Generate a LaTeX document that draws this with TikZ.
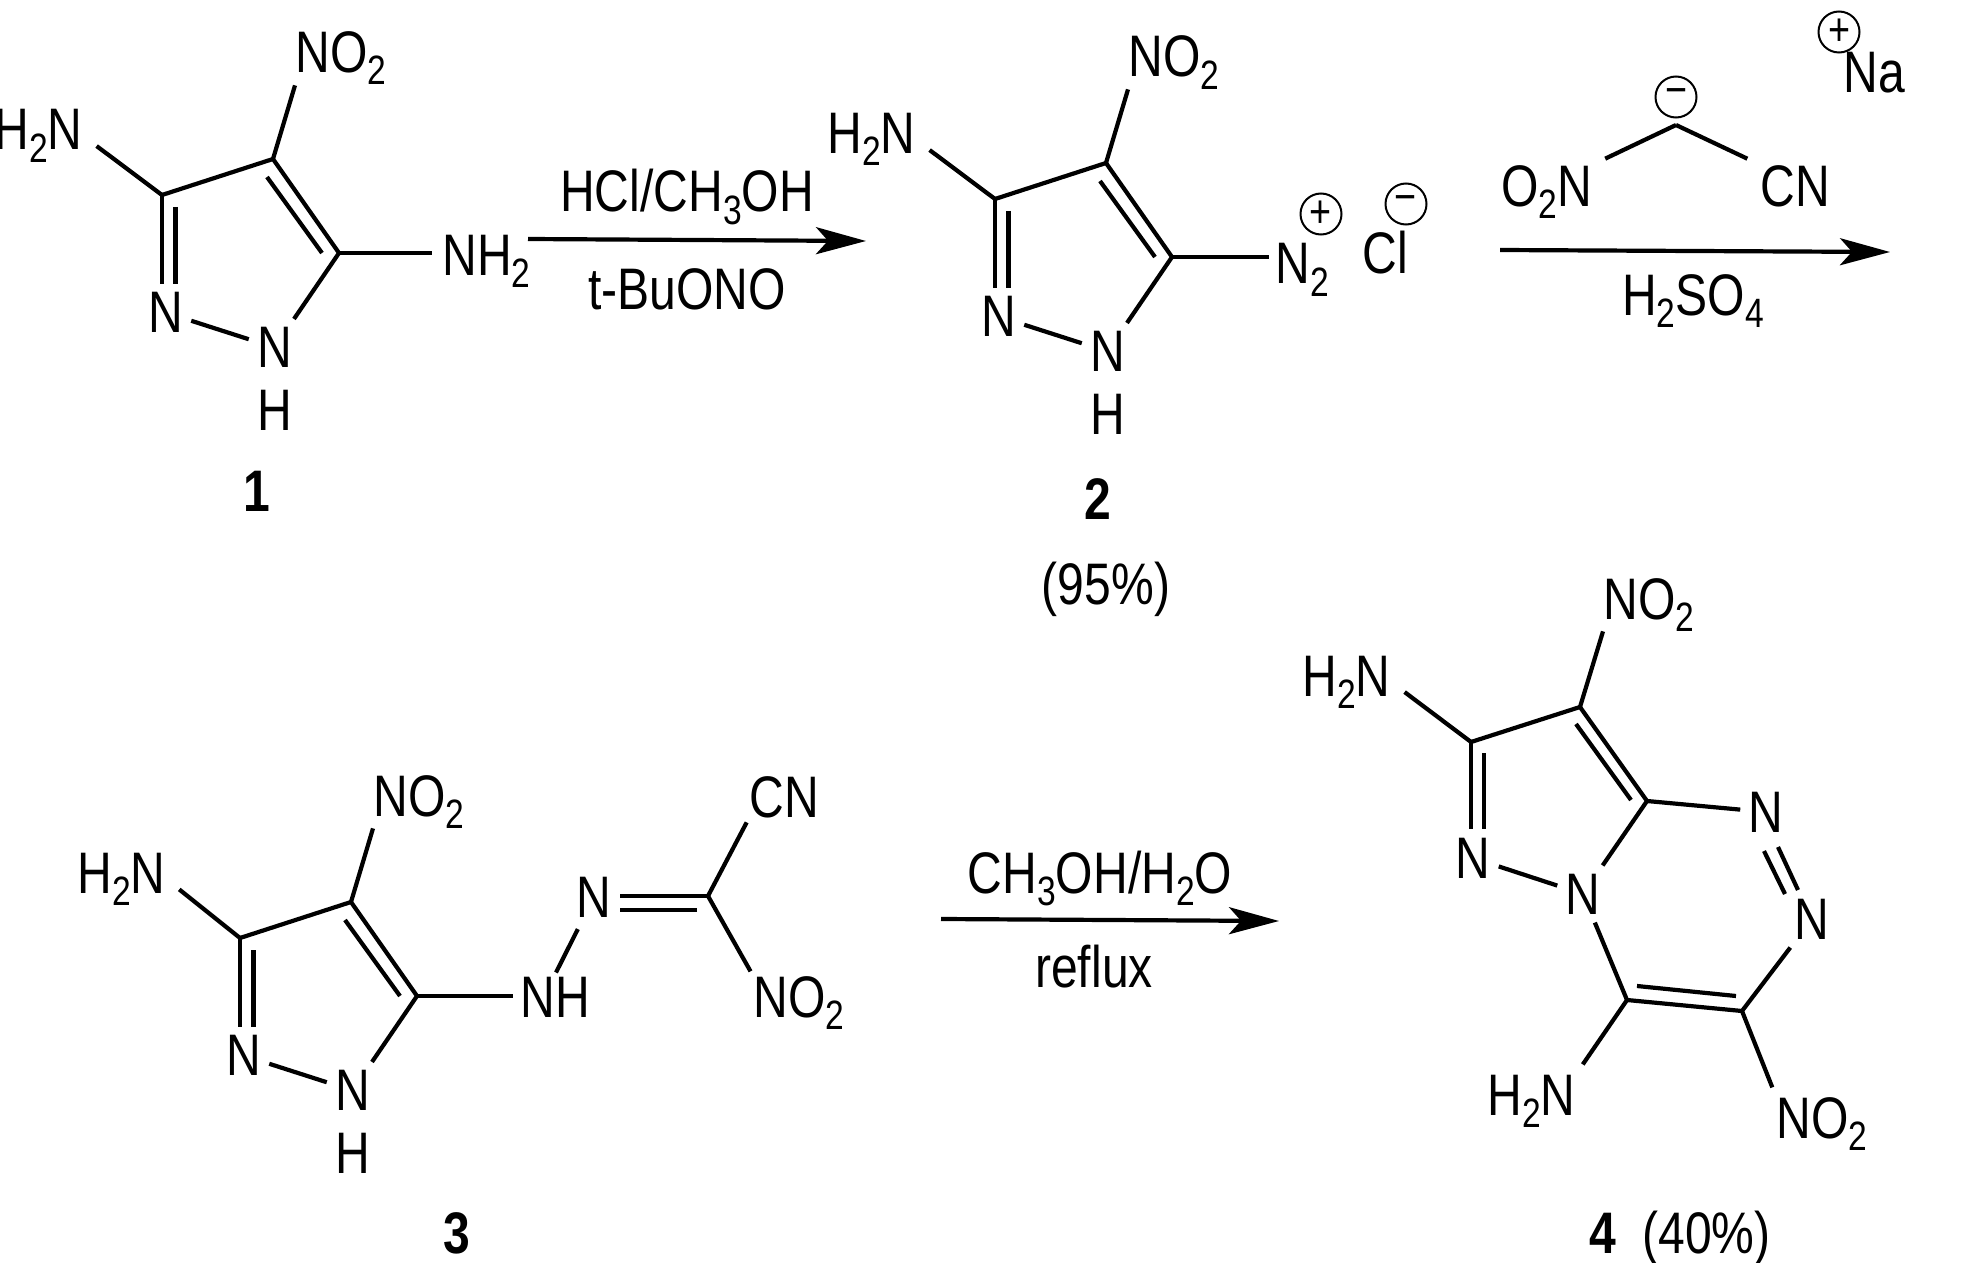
\documentclass[tikz,border=0pt]{standalone}
\usepackage{fontspec}
\setmainfont[FakeStretch=0.82]{Liberation Sans}
\usetikzlibrary{arrows.meta,calc}
\pgfkeys{tikz/mybond/.style={line width=2.1pt}}
\pgfkeys{tikz/myatom/.style={inner sep=4pt}}
\pgfkeys{tikz/mylabel/.style={inner sep=0pt,anchor=base west}}
\pgfkeys{tikz/mylabelr/.style={inner sep=0pt,anchor=base east}}
\pgfkeys{tikz/mytext/.style={inner sep=0pt,anchor=base}}
\pgfkeys{tikz/mycharge/.style={circle,draw,line width=1pt,inner sep=0pt,minimum size=20.5pt,font=\fontsize{23}{23}\selectfont}}
\pgfkeys{tikz/myarrow/.style={line width=2.1pt,-{Stealth[length=25pt,width=13.5pt,inset=6pt]}}}
\newcommand\mysub[1]{\raisebox{-6pt}{\fontsize{20.5}{22}\selectfont #1}}
\newcommand\myno{NO\mysub{2}}
\newcommand\myhn{H\mysub{2}N}
% core ring with NH2 and NO2: prefix, shift x, shift y, right end of NH2
\newcommand*\mypyrazole[4]{
    \begin{scope}[shift={(#2,#3)}]
        \coordinate (#1c3) at (162,195);
        \coordinate (#1c4) at (273,159);
        \coordinate (#1c5) at (339,253);
        \coordinate (#1i3) at (175.5,207);
        \coordinate (#1i4) at (267,177);
        \coordinate (#1i5) at (322,253);
        \node[myatom] (#1n2) at (165.5,312.5) {N};
        \node[myatom] (#1n1) at (274.5,347.5) {N};
        \node[myatom] (#1h) at (274.5,410.5) {H};
        \node[mylabel] (#1no) at (295,73) {\myno};
        \node[mylabelr] (#1hn) at (#4,150) {\myhn};
    \end{scope}
    \draw[mybond] (#1c3) -- (#1c4) -- (#1c5);
    \draw[mybond] (#1i4) -- (#1i5);
    \draw[mybond] (#1c3) -- (#1c3 |- #1n2.north);
    \draw[mybond] (#1i3) -- (#1i3 |- #1n2.north);
    \draw[mybond] (#1c5) -- (#1n1);
    \draw[mybond] (#1n2) -- (#1n1);
    \draw[mybond] (#1c4) -- (#1no.south west);
    \draw[mybond,shorten >=8.5pt] (#1c3) -- (#1hn.east);
}
\begin{document}
\begin{tikzpicture}[x=0.5pt,y=-0.5pt,font=\fontsize{29.3}{32}\selectfont]
    \useasboundingbox (0,0) rectangle (1972,1263);
    % 1
    \mypyrazole{a}{0}{0}{83}
    \node[mylabel] (anh) at (442,275.5) {NH\mysub{2}};
    \draw[mybond,shorten >=5pt] (ac5) -- (ac5 -| anh.west);
    \node[mytext,font=\fontsize{29.3}{32}\selectfont\bfseries] (aname) at (257,511) {1};
    % 1 to 2
    \coordinate (ra) at (528,239);
    \coordinate (rb) at (866,241);
    \draw[myarrow] (ra) -- (rb);
    \node[mytext] (hcl) at (687,212) {HCl/CH\mysub{3}OH};
    \node[mytext] (tbu) at (687,309) {t-BuONO};
    % 2
    \mypyrazole{b}{833}{4}{83}
    \node[mylabel] (bnn) at (1275,284) {N\mysub{2}};
    \draw[mybond,shorten >=3pt] (bc5) -- (bc5 -| bnn.west);
    \node[mycharge] (bplus) at (1321,214) {+};
    \node[mylabel] (bcl) at (1362,273) {Cl};
    \node[mycharge] (bminus) at (1406,204) {−};
    \node[mytext,font=\fontsize{29.3}{32}\selectfont\bfseries] (bname) at (1098,519) {2};
    \node[mytext] (byield) at (1106,604) {(95\%)};
    % reagent above 2 to 3
    \coordinate (dc) at (1676,125);
    \node[mylabel] (don) at (1501,206) {O\mysub{2}N};
    \node[mylabel] (dcn) at (1760,206) {CN};
    \draw[mybond,shorten >=7pt] (dc) -- (don.north east);
    \draw[mybond,shorten >=7pt] (dc) -- (dcn.north west);
    \node[mycharge] (dminus) at (1676,97) {−};
    \node[mycharge] (dplus) at (1839,32) {+};
    \node[mylabel] (dna) at (1843,93) {Na};
    \coordinate (rc) at (1500,250);
    \coordinate (rd) at (1890,252);
    \draw[myarrow] (rc) -- (rd);
    \node[mytext] (hso) at (1693,315) {H\mysub{2}SO\mysub{4}};
    % 3
    \mypyrazole{c}{78}{743}{88}
    \node[mylabel] (cnh) at (520,1017) {NH};
    \node[myatom] (cnn) at (594,897) {N};
    \coordinate (cc) at (708,896);
    \coordinate (cci) at (697,910);
    \node[mylabel] (ccn) at (749,817) {CN};
    \node[mylabel] (cno) at (753,1017) {\myno};
    \draw[mybond,shorten >=3.5pt] (cc5) -- (cc5 -| cnh.west);
    \draw[mybond,shorten >=2pt,shorten <=1pt] (cnh.north) ++(0,-2) -- (cnn);
    \draw[mybond] (cc) -- (cc -| cnn.east);
    \draw[mybond] (cci) -- (cci -| cnn.east);
    \draw[mybond,shorten >=2.5pt] (cc) -- (ccn.south west);
    \draw[mybond,shorten >=2.5pt] (cc) -- (cno.north west);
    \node[mytext,font=\fontsize{29.3}{32}\selectfont\bfseries] (cname) at (457,1253) {3};
    % 3 to 4
    \coordinate (re) at (941,919);
    \coordinate (rf) at (1279,921);
    \draw[myarrow] (re) -- (rf);
    \node[mytext] (cho) at (1100,893) {CH\mysub{3}OH/H\mysub{2}O};
    \node[mytext] (rfx) at (1094,987) {reflux};
    % 4
    \coordinate (ec3) at (1471,742);
    \coordinate (ec4) at (1580,707);
    \coordinate (ec8) at (1647,801);
    \coordinate (ec6) at (1627,1000);
    \coordinate (ec7) at (1742,1011);
    \coordinate (ei3) at (1484,753);
    \coordinate (ei4) at (1576,724);
    \coordinate (ei8) at (1631,800);
    \coordinate (ei6) at (1637,986);
    \coordinate (ei7) at (1736,996);
    \coordinate (eda) at (1764,851);
    \coordinate (edb) at (1785,894);
    \coordinate (edc) at (1778,847);
    \coordinate (edd) at (1798,890);
    \node[myatom] (en2) at (1473,858) {N};
    \node[myatom] (en5) at (1583,894) {N};
    \node[myatom] (en4) at (1766,812) {N};
    \node[myatom] (en3) at (1812,919) {N};
    \node[mylabel] (enoa) at (1603,619) {\myno};
    \node[mylabelr] (ehna) at (1391,696) {\myhn};
    \node[mylabelr] (ehnb) at (1576,1115) {\myhn};
    \node[mylabel] (enob) at (1776,1138) {\myno};
    \draw[mybond] (ec3) -- (ec4) -- (ec8);
    \draw[mybond] (ei4) -- (ei8);
    \draw[mybond] (ec3) -- (ec3 |- en2.north);
    \draw[mybond] (ei3) -- (ei3 |- en2.north);
    \draw[mybond] (en2) -- (en5);
    \draw[mybond] (ec8) -- (en5);
    \draw[mybond] (ec8) -- (en4);
    \draw[mybond] (en5) -- (ec6);
    \draw[mybond] (ec6) -- (ec7);
    \draw[mybond] (ei6) -- (ei7);
    \draw[mybond] (ec7) -- (en3);
    \draw[mybond] (eda) -- (edb);
    \draw[mybond] (edc) -- (edd);
    \draw[mybond] (ec4) -- (enoa.south west);
    \draw[mybond,shorten >=8.5pt] (ec3) -- (ehna.east);
    \draw[mybond,shorten >=6pt] (ec6) -- (ehnb.north east);
    \draw[mybond,shorten >=5pt] (ec7) -- (enob.north west);
    \node[mytext,font=\fontsize{29.3}{32}\selectfont\bfseries] (ename) at (1603,1253) {4};
    \node[mylabel] (eyield) at (1642,1253) {(40\%)};
\end{tikzpicture}
\end{document}
